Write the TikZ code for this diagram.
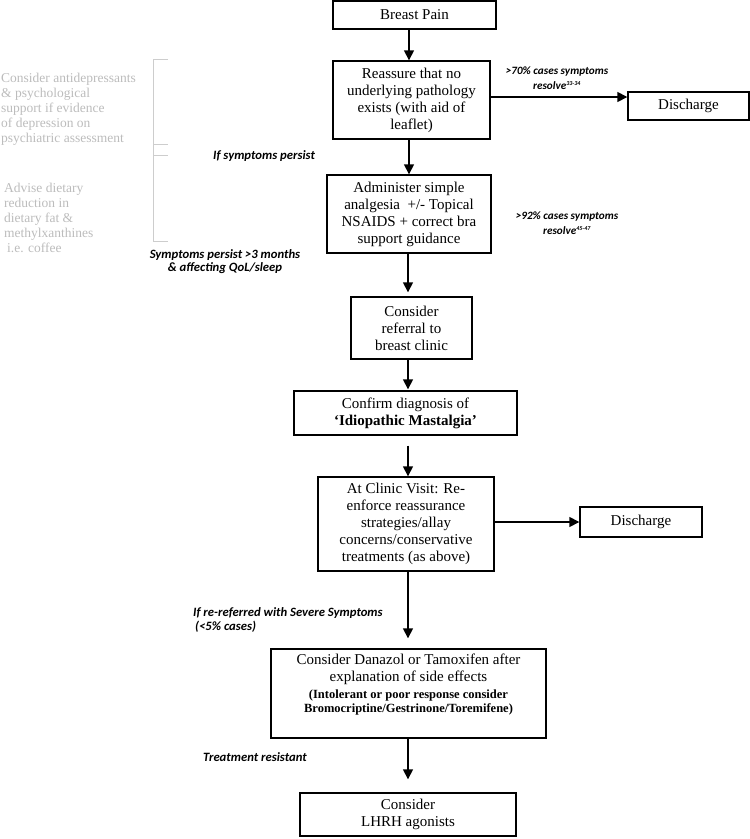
\documentclass[tikz,border=0pt]{standalone}
\usepackage{fontspec}
\setmainfont{Liberation Serif}
\newfontfamily\lblfont{Carlito}
\usetikzlibrary{arrows.meta,calc}
\definecolor{greytxt}{RGB}{188,188,188}
\definecolor{brk}{RGB}{205,205,205}
\begin{document}
\begin{tikzpicture}[x=1pt,y=-1pt,
  box/.style={draw, line width=1.4pt, inner sep=0pt, align=center, font=\fontsize{15}{17}\selectfont},
  txt/.style={inner sep=0pt, align=center, font=\fontsize{15}{17}\selectfont},
  subtxt/.style={inner sep=0pt, align=center, font=\bfseries\fontsize{12.5}{14.5}\selectfont},
  arr/.style={line width=1.6pt, -{Triangle[length=10pt,width=10pt]}},
  lbl/.style={inner sep=0pt, font=\lblfont\bfseries\itshape\fontsize{12.7}{13.5}\selectfont},
  smalllbl/.style={inner sep=0pt, font=\lblfont\bfseries\itshape\fontsize{11.2}{13}\selectfont},
  greynote/.style={inner sep=0pt, align=left, text=greytxt, font=\fontsize{13.5}{15}\selectfont}]
\useasboundingbox (0,0) rectangle (750,839);

% boxes
\node[box, minimum width=163pt, minimum height=28pt] (bp) at (414.5,15) {Breast Pain};
\node[box, minimum width=157pt, minimum height=78pt] (reass) at (411.5,100)
  {Reassure that no\\underlying pathology\\exists (with aid of\\leaflet)};
\node[box, minimum width=121pt, minimum height=28pt] (dis1) at (688.5,106) {Discharge};
\node[box, minimum width=164pt, minimum height=78pt] (admin) at (409,214)
  {Administer simple\\analgesia\ \ +/- Topical\\NSAIDS + correct bra\\support guidance};
\node[box, minimum width=121pt, minimum height=62pt] (refer) at (411.5,328)
  {Consider\\referral to\\breast clinic};
\node[box, minimum width=223pt, minimum height=44pt] (confirm) at (405.5,413)
  {Confirm diagnosis of\\\textbf{‘Idiopathic Mastalgia’}};
\node[box, minimum width=176pt, minimum height=94pt] (clinic) at (406,524)
  {At Clinic Visit: Re-\\enforce reassurance\\strategies/allay\\concerns/conservative\\treatments (as above)};
\node[box, minimum width=122pt, minimum height=30pt] (dis2) at (641,522) {Discharge};
\node[box, minimum width=275pt, minimum height=89pt] (dz) at (408.5,693.5) {};
\node[txt, anchor=north] (dzt) at ($(dz.north)+(0,5)$)
  {Consider Danazol or Tamoxifen after\\explanation of side effects};
\node[subtxt, anchor=north] (dzs) at ($(dz.north)+(0,41)$)
  {(Intolerant or poor response consider\\Bromocriptine/Gestrinone/Toremifene)};
\node[box, minimum width=216pt, minimum height=43pt] (lhrh) at (408,814.5)
  {Consider\\LHRH agonists};

% arrow guide coordinates
\coordinate (ax) at (409,0);
\coordinate (bx) at (408,0);
\coordinate (ay) at (0,97);

\draw[arr] (bp.south -| ax) -- (reass.north -| ax);
\draw[arr] (reass.east |- ay) -- (dis1.west |- ay);
\draw[arr] (reass.south -| ax) -- (admin.north -| ax);
\draw[arr, shorten >=4pt] (admin.south -| bx) -- (refer.north -| bx);
\draw[arr, shorten >=1pt] (refer.south -| bx) -- (confirm.north -| bx);
\draw[arr, shorten <=10pt] (confirm.south -| bx) -- (clinic.north -| bx);
\draw[arr] (clinic.east |- dis2) -- (dis2.west);
\draw[arr, shorten >=10pt] (clinic.south -| bx) -- (dz.north -| bx);
\draw[arr, shorten >=13pt] (dz.south -| bx) -- (lhrh.north -| bx);

% labels
\node[smalllbl, align=center] (l70) at (557,78.5)
  {>70\% cases symptoms\\[2pt]resolve\textsuperscript{\fontsize{6}{6}\selectfont 33-34}};
\node[smalllbl, align=center] (l92) at (567,223)
  {>92\% cases symptoms\\[2pt]resolve\textsuperscript{\fontsize{6}{6}\selectfont 45-47}};
\node[lbl, anchor=west] (lpersist) at (213,156) {If symptoms persist};
\node[lbl, align=center] (l3m) at (225,261.5)
  {Symptoms persist >3 months\\\& affecting QoL/sleep};
\node[lbl, anchor=west, align=left] (lsev) at (193,620)
  {If re-referred with Severe Symptoms\\\hspace*{2pt}(<5\% cases)};
\node[lbl, anchor=west] (lres) at (203,757) {Treatment resistant};

% grey notes
\node[greynote, anchor=west] (g1) at (1,109)
  {Consider antidepressants\\\& psychological\\support if evidence\\of depression on\\psychiatric assessment};
\node[greynote, anchor=west] (g2) at (4,217.5)
  {Advise dietary\\reduction in\\dietary fat \&\\methylxanthines\\\hspace*{3pt}i.e. coffee};

% bracket
\draw[brk, line width=1pt] (168,59) -- (153,59) -- (153,241) -- (168,241);
\draw[brk, line width=1pt] (153,144) -- (168,144);
\draw[brk, line width=1pt] (153,155) -- (168,155);
\end{tikzpicture}
\end{document}
